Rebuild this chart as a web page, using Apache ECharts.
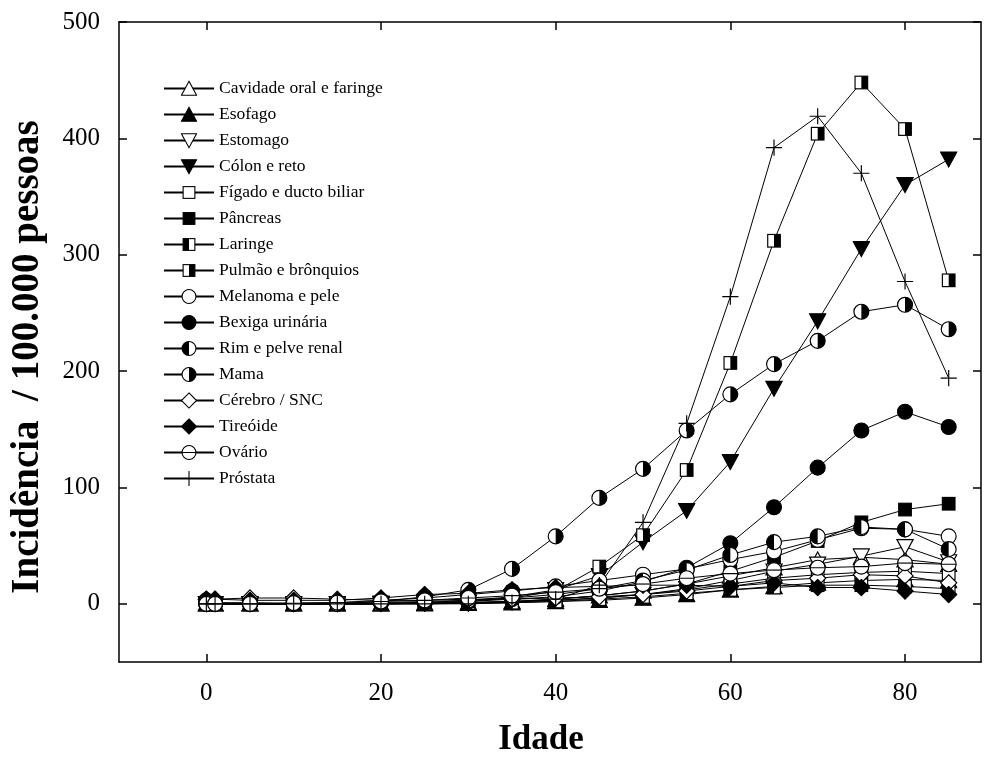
<!DOCTYPE html>
<html>
<head>
<meta charset="utf-8">
<script src="https://cdn.jsdelivr.net/npm/echarts@6/dist/echarts.min.js"></script>
<style>
  html, body { margin: 0; padding: 0; background: #fff; }
  #chart { width: 985px; height: 762px; }
</style>
</head>
<body>
<div id="chart"></div>
<script>
// Age groups (years)
const ages = [0, 1, 5, 10, 15, 20, 25, 30, 35, 40, 45, 50, 55, 60, 65, 70, 75, 80, 85];

// Incidence per 100,000 people, by site
const cavidade = [0, 0, 0, 0, 0, 0, 0.5, 1, 2, 4, 7, 11, 17, 24, 31, 38, 40, 38, 34];
const esofago  = [0, 0, 0, 0, 0, 0, 0, 0.5, 1, 2, 3, 5, 8, 12, 15, 18, 20, 21, 20];
const estomago = [0, 0, 0, 0, 0, 0, 0.5, 1, 2, 3, 5, 8, 13, 20, 28, 34, 41, 49, 36];
const colon    = [0, 0, 0, 0, 0, 0.5, 1, 3, 6, 12, 24, 53, 80, 122, 185, 243, 305, 360, 382];
const figado   = [1, 0.5, 0, 0, 0, 0, 0.5, 1, 1.5, 3, 5, 8, 12, 17, 22, 25, 27, 28, 26];
const pancreas = [0, 0, 0, 0, 0, 0, 0.5, 1, 2, 4, 7, 11, 17, 28, 40, 54, 70, 81, 86];
const laringe  = [0, 0, 0, 0, 0, 0, 0, 0.5, 1, 2, 4, 6, 9, 12, 14, 16, 16, 15, 13];
const pulmao   = [0, 0, 0, 0, 0, 0, 1, 2, 5, 11, 32, 59, 115, 207, 312, 404, 448, 408, 278];
const melanoma = [0, 0, 0, 0.5, 1, 3, 5, 8, 11, 15, 20, 25, 30, 38, 45, 55, 65, 64, 58];
const bexiga   = [0, 0, 0, 0, 0, 0.5, 1, 2, 4, 6, 11, 19, 31, 52, 83, 117, 149, 165, 152];
const rim      = [3, 1, 1, 0.5, 0.5, 1, 2, 3, 5, 8, 13, 20, 29, 42, 53, 58, 66, 64, 47];
const mama     = [0, 0, 0, 0, 0, 2, 6, 12, 30, 58, 91, 116, 149, 180, 206, 226, 251, 257, 236];
const cerebro  = [4, 4, 5, 5, 4, 3, 3, 4, 4, 5, 6, 8, 11, 15, 20, 22, 25, 24, 18];
const tireoide = [4, 4, 3, 3, 3, 5, 8, 9, 12, 14, 15, 16, 16, 15, 18, 14, 14, 11, 8];
const ovario   = [0, 0, 0, 0.5, 1, 2, 3, 5, 7, 10, 13, 17, 22, 26, 29, 31, 32, 35, 34];
const prostata = [0, 0, 0, 0, 0, 0, 0, 0, 1, 4, 16, 70, 155, 264, 392, 419, 370, 277, 194];

// Axis tick values
const xTicks = [0, 20, 40, 60, 80];
const yTicks = [0, 100, 200, 300, 400, 500];

const serif = '"Liberation Serif", "DejaVu Serif", serif';

// Marker glyphs as small inline SVG images
function svgSymbol(inner) {
  const svg = '<svg xmlns="http://www.w3.org/2000/svg" width="40" height="40" viewBox="0 0 20 20">' + inner + '</svg>';
  return 'image://data:image/svg+xml;charset=utf-8,' + encodeURIComponent(svg);
}
const S = 'stroke="#000" stroke-width="1.3"';
const marks = {
  triUpOpen:   svgSymbol('<polygon points="10,1.5 19,18 1,18" fill="#fff" ' + S + '/>'),
  triUpFill:   svgSymbol('<polygon points="10,1.5 19,18 1,18" fill="#000" ' + S + '/>'),
  triDnOpen:   svgSymbol('<polygon points="1,2 19,2 10,18.5" fill="#fff" ' + S + '/>'),
  triDnFill:   svgSymbol('<polygon points="1,2 19,2 10,18.5" fill="#000" ' + S + '/>'),
  sqOpen:      svgSymbol('<rect x="3" y="3" width="14" height="14" fill="#fff" ' + S + '/>'),
  sqFill:      svgSymbol('<rect x="3" y="3" width="14" height="14" fill="#000" ' + S + '/>'),
  sqLeft:      svgSymbol('<rect x="3" y="3" width="14" height="14" fill="#fff"/><rect x="3" y="3" width="7" height="14" fill="#000"/><rect x="3" y="3" width="14" height="14" fill="none" ' + S + '/>'),
  sqRight:     svgSymbol('<rect x="3" y="3" width="14" height="14" fill="#fff"/><rect x="10" y="3" width="7" height="14" fill="#000"/><rect x="3" y="3" width="14" height="14" fill="none" ' + S + '/>'),
  circOpen:    svgSymbol('<circle cx="10" cy="10" r="8.3" fill="#fff" ' + S + '/>'),
  circFill:    svgSymbol('<circle cx="10" cy="10" r="8.3" fill="#000" ' + S + '/>'),
  circLeft:    svgSymbol('<circle cx="10" cy="10" r="8.3" fill="#fff"/><path d="M10,1.7 A8.3,8.3 0 0,0 10,18.3 Z" fill="#000"/><circle cx="10" cy="10" r="8.3" fill="none" ' + S + '/>'),
  circRight:   svgSymbol('<circle cx="10" cy="10" r="8.3" fill="#fff"/><path d="M10,1.7 A8.3,8.3 0 0,1 10,18.3 Z" fill="#000"/><circle cx="10" cy="10" r="8.3" fill="none" ' + S + '/>'),
  diaOpen:     svgSymbol('<polygon points="10,1 19,10 10,19 1,10" fill="#fff" ' + S + '/>'),
  diaFill:     svgSymbol('<polygon points="10,1 19,10 10,19 1,10" fill="#000" ' + S + '/>'),
  circBar:     svgSymbol('<circle cx="10" cy="10" r="8.3" fill="#fff" ' + S + '/><line x1="1.7" y1="10" x2="18.3" y2="10" ' + S + '/>'),
  plus:        svgSymbol('<line x1="1" y1="10" x2="19" y2="10" ' + S + '/><line x1="10" y1="1" x2="10" y2="19" ' + S + '/>')
};

const seriesDefs = [
  ['Cavidade oral e faringe', cavidade, marks.triUpOpen],
  ['Esofago', esofago, marks.triUpFill],
  ['Estomago', estomago, marks.triDnOpen],
  ['Cólon e reto', colon, marks.triDnFill],
  ['Fígado e ducto biliar', figado, marks.sqOpen],
  ['Pâncreas', pancreas, marks.sqFill],
  ['Laringe', laringe, marks.sqLeft],
  ['Pulmão e brônquios', pulmao, marks.sqRight],
  ['Melanoma e pele', melanoma, marks.circOpen],
  ['Bexiga urinária', bexiga, marks.circFill],
  ['Rim e pelve renal', rim, marks.circLeft],
  ['Mama', mama, marks.circRight],
  ['Cérebro / SNC', cerebro, marks.diaOpen],
  ['Tireóide', tireoide, marks.diaFill],
  ['Ovário', ovario, marks.circBar],
  ['Próstata', prostata, marks.plus]
];

const series = seriesDefs.map(([name, values, symbol]) => ({
  name: name,
  type: 'line',
  data: ages.map((a, i) => [a, values[i]]),
  symbol: symbol,
  symbolSize: 18,
  showAllSymbol: true,
  lineStyle: { color: '#000', width: 1 },
  itemStyle: { color: '#000' },
  emphasis: { disabled: true },
  silent: true,
  animation: false
}));

const frameLine = { show: true, onZero: false, lineStyle: { color: '#000', width: 1.5 } };
const innerTick = (vals) => ({ show: true, inside: true, length: 8, customValues: vals, lineStyle: { color: '#000', width: 1.5 } });

const chart = echarts.init(document.getElementById('chart'), null, { renderer: 'canvas' });
chart.setOption({
  backgroundColor: '#fff',
  animation: false,
  grid: { left: 118, right: 4, top: 22, bottom: 92, containLabel: false },
  legend: {
    orient: 'vertical',
    left: 163,
    top: 79.5,
    padding: 0,
    itemWidth: 50,
    itemHeight: 21,
    itemGap: 8,
    selectedMode: false,
    textStyle: { fontFamily: serif, fontSize: 17.5, color: '#000' },
    data: seriesDefs.map(d => d[0])
  },
  xAxis: [
    {
      type: 'value', position: 'bottom', min: -10, max: 88.7,
      name: 'Idade', nameLocation: 'middle', nameGap: 60,
      nameTextStyle: { fontFamily: serif, fontSize: 35, fontWeight: 'bold', color: '#000', padding: [0, 18, 0, 0] },
      axisLine: frameLine,
      axisTick: innerTick(xTicks),
      axisLabel: { customValues: xTicks, fontFamily: serif, fontSize: 25, color: '#000', margin: 19 },
      splitLine: { show: false }
    },
    {
      type: 'value', position: 'top', min: -10, max: 88.7,
      axisLine: frameLine,
      axisTick: innerTick(xTicks),
      axisLabel: { show: false },
      splitLine: { show: false }
    }
  ],
  yAxis: [
    {
      type: 'value', position: 'left', min: -50, max: 500,
      name: 'Incidência  / 100.000 pessoas', nameLocation: 'middle', nameGap: 72,
      nameTextStyle: { fontFamily: serif, fontSize: 39, fontWeight: 'bold', color: '#000', padding: [0, 30, 0, 0] },
      axisLine: frameLine,
      axisTick: innerTick(yTicks),
      axisLabel: { customValues: yTicks, fontFamily: serif, fontSize: 25, color: '#000', margin: 19 },
      splitLine: { show: false }
    },
    {
      type: 'value', position: 'right', min: -50, max: 500,
      axisLine: frameLine,
      axisTick: innerTick(yTicks),
      axisLabel: { show: false },
      splitLine: { show: false }
    }
  ],
  series: series
});
</script>
</body>
</html>
